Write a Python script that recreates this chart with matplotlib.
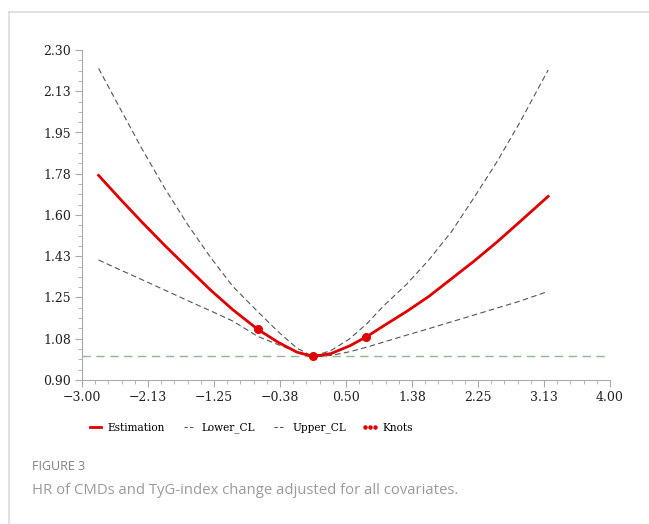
import matplotlib
matplotlib.use("Agg")
import matplotlib.pyplot as plt
from matplotlib.lines import Line2D
from matplotlib.ticker import FixedLocator, AutoMinorLocator
from matplotlib import font_manager

_names = {f.name for f in font_manager.fontManager.ttflist}
SERIF = "DejaVu Serif" if "DejaVu Serif" in _names else "Liberation Serif"

# ---- data ----
x_vals = [-2.78, -2.5, -2.2, -1.9, -1.6, -1.3, -1.0, -0.67, -0.4, -0.15, 0.06,
          0.3, 0.55, 0.78, 1.0, 1.3, 1.6, 1.9, 2.2, 2.5, 2.8, 3.18]
estimation = [1.768, 1.670, 1.568, 1.470, 1.376, 1.283, 1.198, 1.115, 1.060, 1.018, 1.000,
              1.012, 1.045, 1.085, 1.130, 1.190, 1.255, 1.330, 1.405, 1.485, 1.570, 1.679]
upper_cl = [2.222, 2.055, 1.878, 1.712, 1.560, 1.422, 1.297, 1.190, 1.105, 1.035, 1.000,
            1.025, 1.075, 1.140, 1.215, 1.305, 1.410, 1.530, 1.675, 1.825, 1.990, 2.215]
lower_cl = [1.409, 1.368, 1.325, 1.281, 1.237, 1.194, 1.150, 1.085, 1.050, 1.020, 1.000,
            1.004, 1.020, 1.040, 1.061, 1.090, 1.118, 1.147, 1.176, 1.205, 1.234, 1.276]
knots_x = [-0.67, 0.06, 0.77]
knots_y = [1.116, 1.0, 1.083]
ref_y = 1.0

x_ticks = [-3.00, -2.125, -1.25, -0.375, 0.50, 1.375, 2.25, 3.125, 4.00]
x_labels = ["\u22123.00", "\u22122.13", "\u22121.25", "\u22120.38", "0.50", "1.38", "2.25", "3.13", "4.00"]
y_ticks = [0.90, 1.075, 1.25, 1.425, 1.60, 1.775, 1.95, 2.125, 2.30]
y_labels = ["0.90", "1.08", "1.25", "1.43", "1.60", "1.78", "1.95", "2.13", "2.30"]

legend_labels = ["Estimation", "Lower_CL", "Upper_CL", "Knots"]
fig_label = "FIGURE 3"
caption = "HR of CMDs and TyG-index change adjusted for all covariates."

# ---- figure ----
W, H = 649, 524
fig = plt.figure(figsize=(W / 100, H / 100), dpi=100)

# light frame lines (top and left)
fig.add_artist(Line2D([9 / W, 1], [1 - 12 / H, 1 - 12 / H], color="#dcdcdc", lw=1.2))
fig.add_artist(Line2D([9 / W, 9 / W], [0, 1 - 12 / H], color="#dcdcdc", lw=1.2))

ax = fig.add_axes([82 / W, 1 - 380 / H, (610 - 82) / W, (380 - 50) / H])
ax.set_xlim(-3.0, 4.0)
ax.set_ylim(0.90, 2.30)

ax.axhline(ref_y, color="#8db98d", lw=1.0, ls=(0, (6, 4)), zorder=1)
ax.plot(x_vals, upper_cl, color="#555555", lw=0.8, ls=(0, (5, 3)), zorder=2)
ax.plot(x_vals, lower_cl, color="#555555", lw=0.8, ls=(0, (5, 3)), zorder=2)
ax.plot(x_vals, estimation, color="#e00000", lw=2.0, zorder=3)
ax.plot(knots_x, knots_y, "o", color="#e00000", ms=5.5, zorder=4)

for s in ["top", "right"]:
    ax.spines[s].set_visible(False)
for s in ["left", "bottom"]:
    ax.spines[s].set_color("#aaaaaa")
    ax.spines[s].set_linewidth(0.8)

ax.xaxis.set_major_locator(FixedLocator(x_ticks))
ax.yaxis.set_major_locator(FixedLocator(y_ticks))
ax.set_xticklabels(x_labels, family=[SERIF, "DejaVu Sans"], fontsize=9, color="#222222")
ax.set_yticklabels(y_labels, family=[SERIF, "DejaVu Sans"], fontsize=9, color="#222222")
ax.xaxis.set_minor_locator(AutoMinorLocator(5))
ax.yaxis.set_minor_locator(AutoMinorLocator(4))
ax.tick_params(which="major", length=5, width=0.8, color="#aaaaaa", pad=3)
ax.tick_params(which="minor", length=3, width=0.6, color="#aaaaaa")

handles = [
    Line2D([], [], color="#e00000", lw=2.0),
    Line2D([], [], color="#555555", lw=0.8, ls=(0, (3, 2))),
    Line2D([], [], color="#555555", lw=0.8, ls=(0, (3, 2))),
    Line2D([], [], color="#e00000", ls="none", marker="o", ms=2.2),
]
leg = fig.legend(handles, legend_labels, loc="center", bbox_to_anchor=(250 / W, 1 - 428 / H),
                 ncol=4, frameon=False, handlelength=1.6, handletextpad=0.38,
                 columnspacing=1.5, numpoints=3,
                 prop={"family": [SERIF, "DejaVu Sans"], "size": 7.6})

fig.text(32 / W, 1 - 467 / H, fig_label, family="Open Sans", fontsize=9,
         color="#808080", va="center", ha="left")
fig.text(32 / W, 1 - 490 / H, caption, family="Open Sans", fontsize=10.7,
         color="#9a9a9a", va="center", ha="left")

fig.savefig("out.png", dpi=100)
